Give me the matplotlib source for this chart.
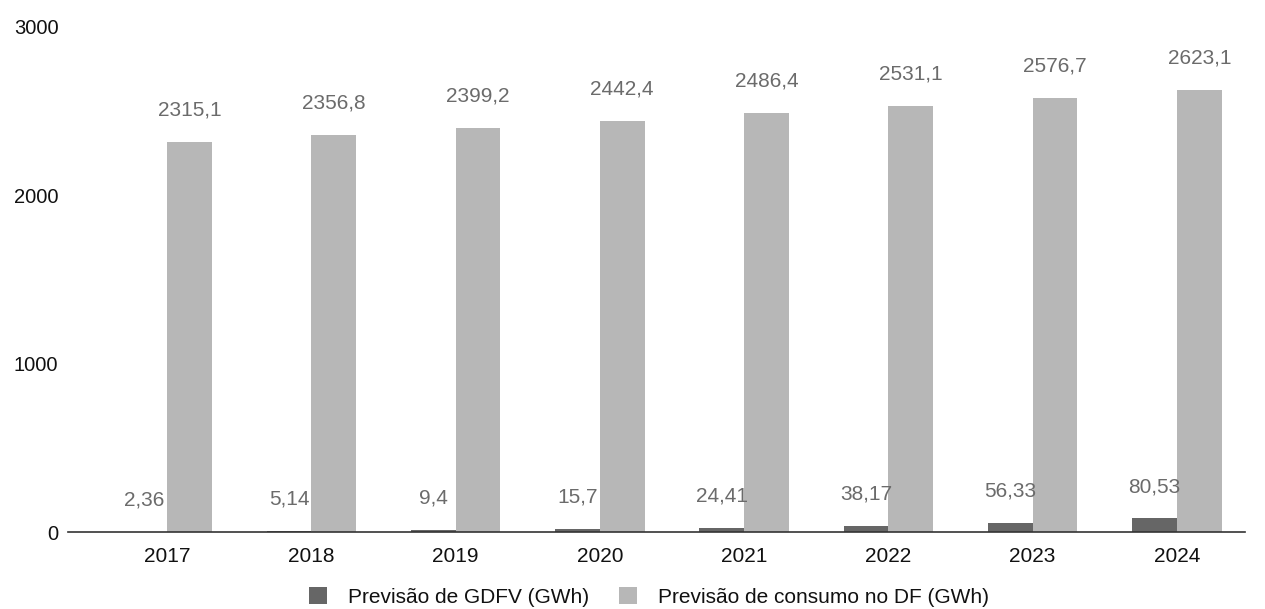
import matplotlib.pyplot as plt
import numpy as np

plt.rcParams['font.family'] = ['Liberation Sans', 'DejaVu Sans']

anos = ['2017', '2018', '2019', '2020', '2021', '2022', '2023', '2024']
gdfv = [2.36, 5.14, 9.4, 15.7, 24.41, 38.17, 56.33, 80.53]
consumo = [2315.1, 2356.8, 2399.2, 2442.4, 2486.4, 2531.1, 2576.7, 2623.1]

def fmt(v):
    s = ('%.2f' % v).rstrip('0').rstrip('.')
    return s.replace('.', ',')

fig = plt.figure(figsize=(12.65, 6.09), dpi=100)
ax = fig.add_axes([0.0538, 0.1264, 0.9302, 0.8293])

x = np.arange(len(anos))
w = 0.31
b1 = ax.bar(x - w / 2, gdfv, w, color='#666666', label='Previsão de GDFV (GWh)')
b2 = ax.bar(x + w / 2, consumo, w, color='#b7b7b7', label='Previsão de consumo no DF (GWh)')

for xi, v in zip(x, gdfv):
    ax.annotate(fmt(v), (xi - w / 2, v), xytext=(0, 23), textcoords='offset points',
                ha='center', va='center', fontsize=15, color='#6b6b6b')
for xi, v in zip(x, consumo):
    ax.annotate(fmt(v), (xi + w / 2, v), xytext=(0, 23), textcoords='offset points',
                ha='center', va='center', fontsize=15, color='#6b6b6b')

ax.set_xlim(-0.686, 7.47)
ax.set_ylim(0, 3000)
ax.set_yticks([0, 1000, 2000, 3000])
ax.set_xticks(x)
ax.set_xticklabels(anos)
ax.tick_params(axis='both', length=0, labelsize=15, colors='#111111')
ax.tick_params(axis='y', pad=7, labelsize=14.5)
ax.tick_params(axis='x', pad=11)
for s in ['top', 'right', 'left']:
    ax.spines[s].set_visible(False)
ax.spines['bottom'].set_color('#333333')
ax.spines['bottom'].set_linewidth(1.2)
ax.set_axisbelow(False)

fig.legend(handles=[b1, b2], loc='center', bbox_to_anchor=(0.513, 0.02), ncol=2,
           frameon=False, fontsize=15, handlelength=0.9, handleheight=0.9,
           columnspacing=1.4, handletextpad=1.0, labelcolor='#111111')

fig.savefig('out.png', dpi=100)
